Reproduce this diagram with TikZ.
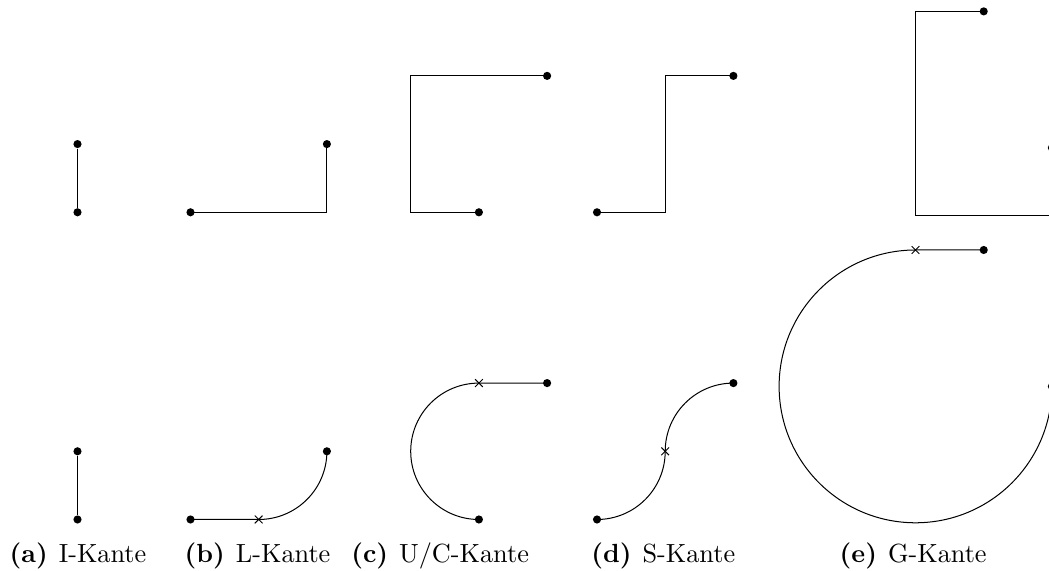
\documentclass[tikz,border=0pt]{standalone}
\usetikzlibrary{shapes.misc}
\tikzset{
  edge/.style={line width=0.42pt, line join=miter},
  dotnode/.style={circle, fill=black, inner sep=0pt, minimum size=3.4pt},
  kinkmark/.style={cross out, draw=black, line width=0.42pt, inner sep=0pt, minimum size=2.8pt},
  caplabel/.style={anchor=base west, inner sep=0pt, font=\fontsize{10.95}{13.6}\selectfont},
}
\newcommand{\sublabel}[2]{\textbf{(#1)}\hspace{4.6pt}#2}
\begin{document}
\begin{tikzpicture}[x=0.4172pt, y=0.4172pt]
\useasboundingbox (0,0) rectangle (1049,571);

% (a) I-Kante
\node[dotnode] (a1) at (77.5,426.9) {};
\node[dotnode] (a2) at (77.5,358.7) {};
\draw[edge] (a1) -- (a2);
\node[dotnode] (a3) at (77.5,119.7) {};
\node[dotnode] (a4) at (77.5,51.5) {};
\draw[edge] (a3) -- (a4);

% (b) L-Kante
\node[dotnode] (b1) at (190.5,358.7) {};
\coordinate (b2) at (326.9,358.7);
\node[dotnode] (b3) at (326.9,426.9) {};
\draw[edge] (b1.center) -- (b2) -- (b3.center);
\node[dotnode] (b4) at (190.5,51.5) {};
\coordinate (b5) at (258.7,51.5);
\node[dotnode] (b6) at (326.9,119.7) {};
\draw[edge] (b4.center) -- (b5) arc[start angle=270, end angle=360, radius=1cm] -- (b6.center);
\node[kinkmark] at (b5) {};

% (c) U/C-Kante
\node[dotnode] (c1) at (478.9,358.7) {};
\coordinate (c2) at (410.7,358.7);
\coordinate (c3) at (410.7,495.1);
\node[dotnode] (c4) at (547.1,495.1) {};
\draw[edge] (c1.center) -- (c2) -- (c3) -- (c4.center);
\node[dotnode] (c5) at (478.9,51.5) {};
\coordinate (c6) at (478.9,187.9);
\node[dotnode] (c7) at (547.1,187.9) {};
\draw[edge] (c5.center) arc[start angle=270, end angle=90, radius=1cm] -- (c7.center);
\node[kinkmark] at (c6) {};

% (d) S-Kante
\node[dotnode] (d1) at (597,358.7) {};
\coordinate (d2) at (665.2,358.7);
\coordinate (d3) at (665.2,495.1);
\node[dotnode] (d4) at (733.4,495.1) {};
\draw[edge] (d1.center) -- (d2) -- (d3) -- (d4.center);
\node[dotnode] (d5) at (597,51.5) {};
\coordinate (d6) at (665.2,119.7);
\node[dotnode] (d7) at (733.4,187.9) {};
\draw[edge] (d5.center) arc[start angle=270, end angle=360, radius=1cm]
  arc[start angle=180, end angle=90, radius=1cm] -- (d7.center);
\node[kinkmark] at (d6) {};

% (e) G-Kante
\node[dotnode] (e1) at (983.7,559.6) {};
\coordinate (e2) at (915.5,559.6);
\coordinate (e3) at (915.5,355);
\coordinate (e4) at (1051.9,355);
\node[dotnode] (e5) at (1051.9,423.2) {};
\draw[edge] (e1.center) -- (e2) -- (e3) -- (e4) -- (e5.center);
\node[dotnode] (e6) at (983.7,321) {};
\coordinate (e7) at (915.5,321);
\node[dotnode] (e8) at (1051.9,184.6) {};
\draw[edge] (e6.center) -- (e7) arc[start angle=90, end angle=360, radius=2cm] -- (e8.center);
\node[kinkmark] at (e7) {};

% captions
\node[caplabel] (ca) at (9.2,8) {\sublabel{a}{I-Kante}};
\node[caplabel] (cb) at (184.2,8) {\sublabel{b}{L-Kante}};
\node[caplabel] (cc) at (350.8,8) {\sublabel{c}{U/C-Kante}};
\node[caplabel] (cd) at (590.8,8) {\sublabel{d}{S-Kante}};
\node[caplabel] (ce) at (839.2,8) {\sublabel{e}{G-Kante}};
\end{tikzpicture}
\end{document}
